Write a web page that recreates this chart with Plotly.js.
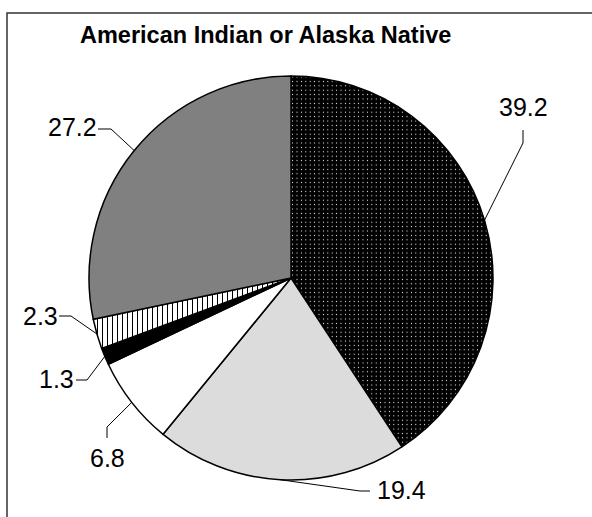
<!DOCTYPE html>
<html>
<head>
<meta charset="utf-8">
<script src="https://cdn.plot.ly/plotly-3.0.1.min.js"></script>
<style>
html,body{margin:0;padding:0;background:#fff;}
#chart{width:592px;height:517px;}
</style>
</head>
<body>
<div id="chart"></div>
<script>
// ---- data ----
var categories = ["A", "B", "C", "D", "E", "F"];
var values = [39.2, 19.4, 6.8, 1.3, 2.3, 27.2];
var valueLabels = ["39.2", "19.4", "6.8", "1.3", "2.3", "27.2"];
var titleText = "American Indian or Alaska Native";

// ---- styles ----
var sliceColors = ["#000000", "#dcdcdc", "#ffffff", "#000000", "#ffffff", "#808080"];
var patShape = [".", "", "", "", "|", ""];
var patFg = ["#ffffff", "#000000", "#000000", "#000000", "#000000", "#000000"];
var patBg = ["#000000", "#dcdcdc", "#ffffff", "#000000", "#ffffff", "#808080"];
var patSize = [4.4, 6, 6, 6, 5, 6];
var patSolid = [0.05, 0.3, 0.3, 0.3, 0.2, 0.3];

// ---- layout geometry (pixels) ----
var W = 592, H = 517;
var CX = 291, CY = 278, R = 202;
// label anchor (text centre) and leader elbow/end points, in pixels
var labelPos = [[523, 107], [401, 490], [107, 458], [56, 379], [40, 316], [72, 127]];
var leaderElbow = [[523, 143], [360, 491], [107, 427], [87, 380], [71, 316], [111, 129]];
var leaderEnd = [[523, 130], [370, 491], [107, 438], [76, 380], [59, 316], [98, 129]];

function px(x) { return x / W; }
function py(y) { return 1 - y / H; }

var total = values.reduce(function (a, b) { return a + b; }, 0);
var shapes = [];
var annotations = [];
var cum = 0;
for (var i = 0; i < values.length; i++) {
  var mid = (cum + values[i] / 2) / total * 2 * Math.PI;
  cum += values[i];
  var ex = CX + R * Math.sin(mid);
  var ey = CY - R * Math.cos(mid);
  shapes.push({
    type: "path", xref: "paper", yref: "paper",
    path: "M" + px(ex) + "," + py(ey) + " L" + px(leaderElbow[i][0]) + "," + py(leaderElbow[i][1]) +
          " L" + px(leaderEnd[i][0]) + "," + py(leaderEnd[i][1]),
    line: {color: "#000000", width: 1}
  });
  annotations.push({
    xref: "paper", yref: "paper",
    x: px(labelPos[i][0]), y: py(labelPos[i][1]),
    xanchor: "center", yanchor: "middle",
    text: valueLabels[i], showarrow: false,
    font: {family: "Liberation Sans, Arial, sans-serif", size: 25, color: "#000000"}
  });
}
annotations.push({
  xref: "paper", yref: "paper", x: px(265), y: py(35),
  xanchor: "center", yanchor: "middle", text: "<b>" + titleText + "</b>", showarrow: false,
  font: {family: "Liberation Sans, Arial, sans-serif", size: 23.5, color: "#000000"}
});
// frame
shapes.push({
  type: "rect", xref: "paper", yref: "paper",
  x0: px(7), x1: px(620), y0: py(13), y1: py(540),
  line: {color: "#333333", width: 1.5}
});

var trace = {
  type: "pie",
  labels: categories,
  values: values,
  sort: false,
  direction: "clockwise",
  rotation: 0,
  textinfo: "none",
  hoverinfo: "label+value",
  domain: {x: [px(CX - R), px(CX + R)], y: [py(CY + R), py(CY - R)]},
  marker: {
    colors: sliceColors,
    line: {color: "#000000", width: 1.5},
    pattern: {shape: patShape, fgcolor: patFg, bgcolor: patBg, size: patSize, solidity: patSolid, fillmode: "replace"}
  }
};

var layout = {
  width: W, height: H,
  margin: {l: 0, r: 0, t: 0, b: 0},
  paper_bgcolor: "#ffffff",
  showlegend: false,
  shapes: shapes,
  annotations: annotations
};

Plotly.newPlot("chart", [trace], layout, {displayModeBar: false, staticPlot: true});
</script>
</body>
</html>
